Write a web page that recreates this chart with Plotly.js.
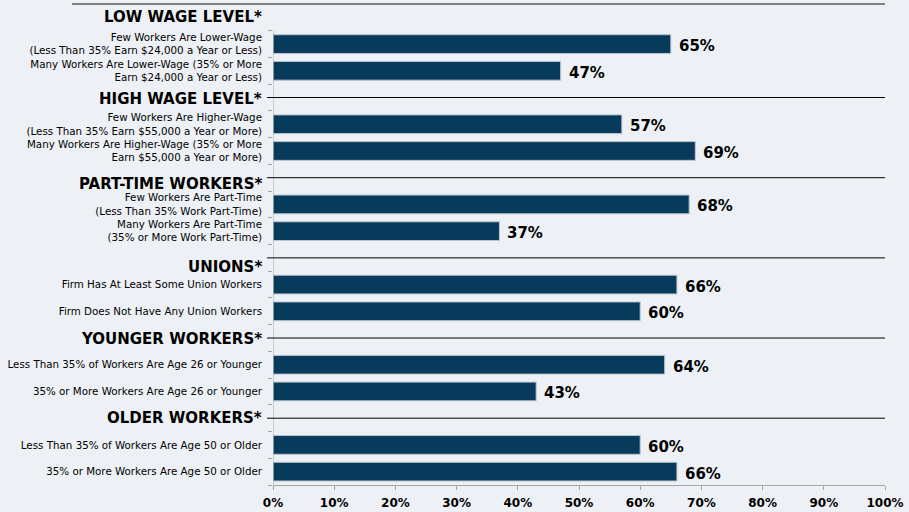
<!DOCTYPE html>
<html>
<head>
<meta charset="utf-8">
<script src="https://cdn.plot.ly/plotly-3.0.1.min.js"></script>
<style>
  html, body { margin: 0; padding: 0; background: #edf1f5; }
  #chart { width: 909px; height: 512px; }
</style>
</head>
<body>
<div id="chart"></div>
<script>
// ---- data ----
const groups = [
  "LOW WAGE LEVEL*",
  "HIGH WAGE LEVEL*",
  "PART-TIME WORKERS*",
  "UNIONS*",
  "YOUNGER WORKERS*",
  "OLDER WORKERS*"
];
const itemLabels = [
  "Few Workers Are Lower-Wage<br>(Less Than 35% Earn $24,000 a Year or Less)",
  "Many Workers Are Lower-Wage (35% or More<br>Earn $24,000 a Year or Less)",
  "Few Workers Are Higher-Wage<br>(Less Than 35% Earn $55,000 a Year or More)",
  "Many Workers Are Higher-Wage (35% or More<br>Earn $55,000 a Year or More)",
  "Few Workers Are Part-Time<br>(Less Than 35% Work Part-Time)",
  "Many Workers Are Part-Time<br>(35% or More Work Part-Time)",
  "Firm Has At Least Some Union Workers",
  "Firm Does Not Have Any Union Workers",
  "Less Than 35% of Workers Are Age 26 or Younger",
  "35% or More Workers Are Age 26 or Younger",
  "Less Than 35% of Workers Are Age 50 or Older",
  "35% or More Workers Are Age 50 or Older"
];
const values = [65, 47, 57, 69, 68, 37, 66, 60, 64, 43, 60, 66];
const xTickValues = [0, 10, 20, 30, 40, 50, 60, 70, 80, 90, 100];
const xTickLabels = ["0%", "10%", "20%", "30%", "40%", "50%", "60%", "70%", "80%", "90%", "100%"];

// ---- layout helpers (rows: one header row + two item rows per group) ----
const perGroup = 3;
const nRows = groups.length * perGroup;
const headerRows = groups.map((g, i) => i * perGroup);
const itemRows = itemLabels.map((_, k) => Math.floor(k / 2) * perGroup + 1 + (k % 2));
const boundaries = Array.from({length: nRows}, (_, i) => i + 0.5);
const headerShift = [0, -1, -6, -9, -1, 0];

const FONT = "DejaVu Sans, Verdana, sans-serif";
const BAR = "#083a5b";

const trace = {
  type: "bar",
  orientation: "h",
  x: values,
  y: itemRows,
  marker: { color: BAR, line: { color: "#b9c4ce", width: 1 } },
  hoverinfo: "skip",
  cliponaxis: false
};

const annotations = [];
values.forEach((v, k) => {
  annotations.push({
    x: v, y: itemRows[k], xref: "x", yref: "y",
    text: v + "%", showarrow: false, xanchor: "left", yanchor: "middle",
    xshift: 6, yshift: -2,
    font: { family: FONT, size: 15, color: "#000", weight: "bold" }
  });
});
groups.forEach((g, i) => {
  annotations.push({
    x: 0, y: headerRows[i], xref: "x", yref: "y",
    text: g, showarrow: false, xanchor: "right", yanchor: "middle",
    xshift: -9, yshift: headerShift[i],
    font: { family: FONT, size: 15, color: "#000", weight: "bold" }
  });
});

const shapes = [
  // top rule
  { type: "line", xref: "paper", yref: "paper", x0: (72 - 273) / 612, x1: 1, y0: 1, y1: 1,
    line: { color: "#7f7f7f", width: 2 } },
  // y axis line
  { type: "line", xref: "x", yref: "y", x0: 0, x1: 0, y0: 0.5, y1: nRows - 0.5,
    line: { color: "#a6a6a6", width: 1 } }
];
headerRows.slice(1).forEach((r) => {
  shapes.push({ type: "line", xref: "paper", yref: "y", x0: -6 / 612, x1: 1, y0: r, y1: r,
    line: { color: "#000", width: 1 } });
});

const layout = {
  width: 909, height: 512,
  margin: { l: 273, r: 24, t: 4, b: 27 },
  paper_bgcolor: "#edf1f5",
  plot_bgcolor: "#edf1f5",
  showlegend: false,
  bargap: 0.3,
  font: { family: FONT, color: "#000" },
  xaxis: {
    range: [0, 100],
    tickmode: "array", tickvals: xTickValues, ticktext: xTickLabels,
    showgrid: false, zeroline: false,
    showline: true, linecolor: "#a6a6a6", linewidth: 1,
    ticks: "outside", ticklen: 4, tickcolor: "#a6a6a6",
    tickfont: { family: FONT, size: 12, color: "#000", weight: "bold" },
    ticklabelstandoff: 3,
    fixedrange: true
  },
  yaxis: {
    range: [nRows - 0.5, -0.5],
    tickmode: "array", tickvals: itemRows, ticktext: itemLabels,
    ticks: "", showgrid: false, zeroline: false, showline: false,
    tickfont: { family: FONT, size: 10.3, color: "#000" },
    ticklabelstandoff: 10,
    minor: { tickmode: "array", tickvals: boundaries, ticks: "outside", ticklen: 4,
             tickcolor: "#a6a6a6", showgrid: false },
    fixedrange: true
  },
  annotations: annotations,
  shapes: shapes
};

Plotly.newPlot("chart", [trace], layout, { displayModeBar: false, staticPlot: true });
</script>
</body>
</html>
